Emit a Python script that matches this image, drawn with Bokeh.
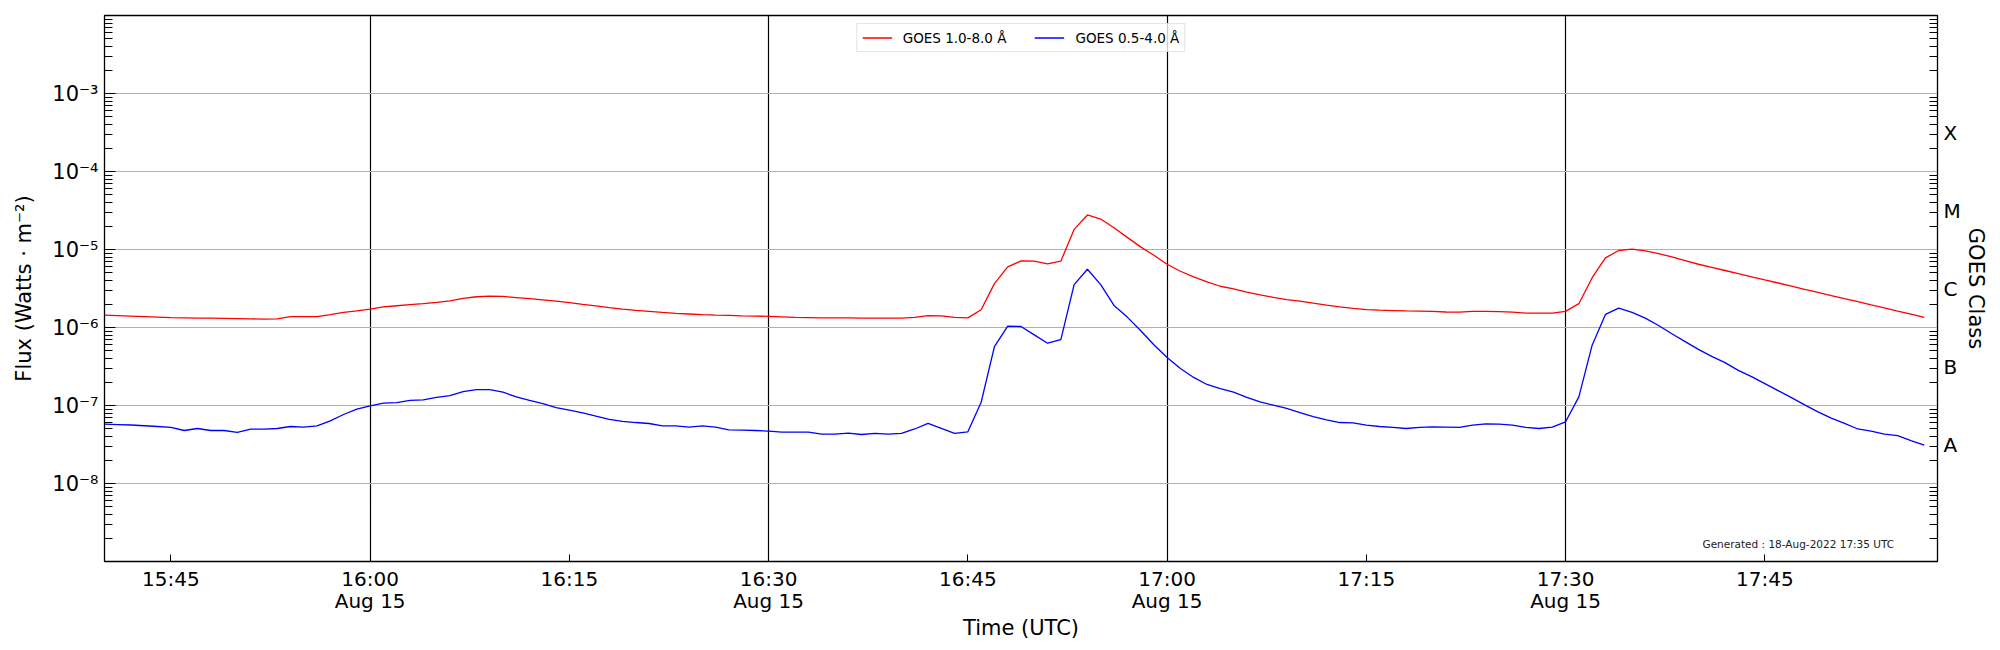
from datetime import datetime, timedelta
from bokeh.plotting import figure
from bokeh.models import Range1d, FixedTicker, LogAxis, Legend, LegendItem, Label
from bokeh.embed import file_html
from bokeh.resources import INLINE

# ---------------- data (1-minute GOES XRS fluxes, W m^-2) ----------------
start_time = datetime(2022, 8, 15, 15, 40)

flux_long = [  # GOES 1.0-8.0 A (red)
    1.44e-6, 1.42e-6, 1.40e-6, 1.38e-6, 1.36e-6, 1.34e-6, 1.33e-6, 1.32e-6, 1.32e-6, 1.31e-6,
    1.30e-6, 1.29e-6, 1.28e-6, 1.29e-6, 1.38e-6, 1.38e-6, 1.38e-6, 1.46e-6, 1.56e-6, 1.63e-6,
    1.72e-6, 1.84e-6, 1.90e-6, 1.96e-6, 2.02e-6, 2.10e-6, 2.20e-6, 2.36e-6, 2.48e-6, 2.53e-6,
    2.50e-6, 2.42e-6, 2.34e-6, 2.26e-6, 2.18e-6, 2.08e-6, 1.98e-6, 1.89e-6, 1.80e-6, 1.72e-6,
    1.66e-6, 1.61e-6, 1.56e-6, 1.52e-6, 1.49e-6, 1.46e-6, 1.44e-6, 1.43e-6, 1.41e-6, 1.40e-6,
    1.39e-6, 1.37e-6, 1.35e-6, 1.34e-6, 1.33e-6, 1.33e-6, 1.33e-6, 1.32e-6, 1.32e-6, 1.32e-6,
    1.32e-6, 1.35e-6, 1.42e-6, 1.41e-6, 1.35e-6, 1.33e-6, 1.69e-6, 3.65e-6, 5.98e-6, 7.14e-6,
    7.08e-6, 6.54e-6, 7.08e-6, 1.81e-5, 2.77e-5, 2.46e-5, 1.90e-5, 1.43e-5, 1.08e-5, 8.45e-6,
    6.47e-6, 5.26e-6, 4.45e-6, 3.84e-6, 3.38e-6, 3.12e-6, 2.85e-6, 2.62e-6, 2.43e-6, 2.28e-6,
    2.18e-6, 2.05e-6, 1.94e-6, 1.84e-6, 1.76e-6, 1.70e-6, 1.67e-6, 1.65e-6, 1.63e-6, 1.62e-6,
    1.61e-6, 1.58e-6, 1.57e-6, 1.61e-6, 1.61e-6, 1.60e-6, 1.57e-6, 1.53e-6, 1.53e-6, 1.53e-6,
    1.61e-6, 2.02e-6, 4.35e-6, 7.81e-6, 9.71e-6, 1.01e-5, 9.61e-6, 8.88e-6, 8.05e-6, 7.22e-6,
    6.47e-6, 5.90e-6, 5.38e-6, 4.90e-6, 4.47e-6, 4.07e-6, 3.72e-6, 3.39e-6, 3.09e-6, 2.82e-6,
    2.57e-6, 2.34e-6, 2.14e-6, 1.95e-6, 1.78e-6, 1.62e-6, 1.48e-6, 1.35e-6,
]

flux_short = [  # GOES 0.5-4.0 A (blue)
    5.77e-8, 5.70e-8, 5.62e-8, 5.50e-8, 5.38e-8, 5.23e-8, 4.78e-8, 5.07e-8, 4.78e-8, 4.78e-8,
    4.51e-8, 4.97e-8, 4.97e-8, 5.07e-8, 5.38e-8, 5.28e-8, 5.48e-8, 6.35e-8, 7.67e-8, 8.97e-8,
    9.90e-8, 1.07e-7, 1.09e-7, 1.16e-7, 1.18e-7, 1.27e-7, 1.34e-7, 1.51e-7, 1.60e-7, 1.60e-7,
    1.48e-7, 1.29e-7, 1.16e-7, 1.06e-7, 9.42e-8, 8.71e-8, 8.05e-8, 7.29e-8, 6.62e-8, 6.24e-8,
    6.05e-8, 5.88e-8, 5.48e-8, 5.48e-8, 5.28e-8, 5.48e-8, 5.28e-8, 4.88e-8, 4.83e-8, 4.78e-8,
    4.69e-8, 4.55e-8, 4.55e-8, 4.55e-8, 4.29e-8, 4.29e-8, 4.42e-8, 4.25e-8, 4.38e-8, 4.30e-8,
    4.40e-8, 5.00e-8, 5.90e-8, 5.10e-8, 4.40e-8, 4.60e-8, 1.10e-7, 5.70e-7, 1.04e-6, 1.03e-6,
    8.05e-7, 6.29e-7, 7.00e-7, 3.54e-6, 5.58e-6, 3.54e-6, 1.92e-6, 1.36e-6, 9.15e-7, 6.00e-7,
    4.12e-7, 2.98e-7, 2.29e-7, 1.86e-7, 1.64e-7, 1.48e-7, 1.27e-7, 1.11e-7, 1.01e-7, 9.16e-8,
    8.13e-8, 7.22e-8, 6.55e-8, 6.05e-8, 6.00e-8, 5.60e-8, 5.38e-8, 5.23e-8, 5.07e-8, 5.23e-8,
    5.32e-8, 5.28e-8, 5.23e-8, 5.60e-8, 5.82e-8, 5.77e-8, 5.60e-8, 5.23e-8, 5.07e-8, 5.28e-8,
    6.18e-8, 1.29e-7, 5.94e-7, 1.47e-6, 1.77e-6, 1.56e-6, 1.32e-6, 1.06e-6, 8.30e-7, 6.60e-7,
    5.25e-7, 4.27e-7, 3.55e-7, 2.82e-7, 2.34e-7, 1.91e-7, 1.55e-7, 1.26e-7, 1.02e-7, 8.30e-8,
    6.90e-8, 5.90e-8, 5.00e-8, 4.70e-8, 4.30e-8, 4.10e-8, 3.55e-8, 3.10e-8,
]

times = [start_time + timedelta(minutes=i) for i in range(len(flux_long))]

series_labels = ["GOES 1.0-8.0 Å", "GOES 0.5-4.0 Å"]
series_colors = ["#ff0000", "#0000ff"]

x_tick_times = ["15:45", "16:00", "16:15", "16:30", "16:45", "17:00", "17:15", "17:30", "17:45"]
x_major_times = ["16:00", "16:30", "17:00", "17:30"]
date_label = "Aug 15"

y_decades = [1e-9, 1e-8, 1e-7, 1e-6, 1e-5, 1e-4, 1e-3, 1e-2]
y_decade_labels = ["", "10⁻⁸", "10⁻⁷", "10⁻⁶", "10⁻⁵", "10⁻⁴", "10⁻³", ""]

goes_classes = ["A", "B", "C", "M", "X"]
goes_centers = [10 ** -7.5, 10 ** -6.5, 10 ** -5.5, 10 ** -4.5, 10 ** -3.5]

generated_text = "Generated : 18-Aug-2022 17:35 UTC"

# ---------------- helpers ----------------
EPOCH = datetime(1970, 1, 1)


def to_ms(dt):
    return (dt - EPOCH).total_seconds() * 1000.0


def hm(s):
    h, m = s.split(":")
    return datetime(2022, 8, 15, int(h), int(m))


FONT = "DejaVu Sans"

p = figure(
    frame_width=1833, frame_height=546,
    x_axis_type="datetime", y_axis_type="log",
    x_range=Range1d(hm("15:40"), hm("17:58")),
    y_range=Range1d(1e-9, 1e-2),
    output_backend="svg", toolbar_location=None,
    min_border_left=104, min_border_right=52, min_border_top=15, min_border_bottom=74,
    background_fill_color="white", border_fill_color="white",
)
p.outline_line_color = "black"
p.outline_line_width = 1.3
p.outline_line_alpha = 1.0

r_long = p.line(times, flux_long, line_color=series_colors[0], line_width=1.3)
r_short = p.line(times, flux_short, line_color=series_colors[1], line_width=1.3)

# ---- x axis ----
xt = [to_ms(hm(t)) for t in x_tick_times]
xmaj = [to_ms(hm(t)) for t in x_major_times]
xa = p.xaxis[0]
xa.ticker = FixedTicker(ticks=xt)
xa.major_label_overrides = {
    to_ms(hm(t)): (t + "\n" + date_label if t in x_major_times else t) for t in x_tick_times
}
xa.major_tick_in = 7
xa.major_tick_out = 0
xa.minor_tick_in = 0
xa.minor_tick_out = 0
xa.major_label_standoff = 5
xa.major_label_text_font = FONT
xa.major_label_text_font_size = "20px"
xa.major_label_text_color = "black"
xa.major_label_text_line_height = 0.92
xa.axis_label = "Time (UTC)"
xa.axis_label_text_font = FONT
xa.axis_label_text_font_size = "21px"
xa.axis_label_text_font_style = "normal"
xa.axis_label_text_color = "black"
xa.axis_label_standoff = 0
xa.axis_line_color = "black"
xa.major_tick_line_color = "black"

# ---- left y axis ----
minor_log = [k * 10.0 ** n for n in range(-9, -2) for k in range(2, 10)]
ya = p.yaxis[0]
ya.ticker = FixedTicker(ticks=y_decades, minor_ticks=minor_log)
ya.major_label_overrides = {v: s for v, s in zip(y_decades, y_decade_labels)}
ya.major_tick_in = 11
ya.major_tick_out = 0
ya.minor_tick_in = 8
ya.minor_tick_out = 0
ya.major_label_standoff = 6
ya.major_label_text_font = FONT
ya.major_label_text_font_size = "21px"
ya.major_label_text_color = "black"
ya.axis_label = "Flux (Watts · m⁻²)"
ya.axis_label_text_font = FONT
ya.axis_label_text_font_size = "21px"
ya.axis_label_text_font_style = "normal"
ya.axis_label_text_color = "black"
ya.axis_label_standoff = 13
ya.axis_line_color = "black"

# ---- right (GOES class) axis ----
ra = LogAxis(
    ticker=FixedTicker(ticks=goes_centers, minor_ticks=minor_log),
    major_label_overrides={v: s for v, s in zip(goes_centers, goes_classes)},
    major_tick_in=0, major_tick_out=0,
    minor_tick_in=8, minor_tick_out=0,
    major_label_standoff=6,
    major_label_text_font=FONT, major_label_text_font_size="20px",
    major_label_text_color="black",
    axis_label="GOES Class", axis_label_text_font=FONT,
    axis_label_text_font_size="21px", axis_label_text_font_style="normal",
    axis_label_text_color="black", axis_label_standoff=0,
    axis_line_color="black",
)
p.add_layout(ra, "right")

# ---- grids ----
p.xgrid.ticker = FixedTicker(ticks=xmaj)
p.xgrid.grid_line_color = "black"
p.xgrid.grid_line_width = 1.2
p.xgrid.grid_line_alpha = 1.0
p.ygrid.ticker = FixedTicker(ticks=y_decades)
p.ygrid.grid_line_color = "#b0b0b0"
p.ygrid.grid_line_width = 1.2
p.ygrid.grid_line_alpha = 1.0

# ---- legend ----
legend = Legend(
    items=[LegendItem(label=series_labels[0], renderers=[r_long]),
           LegendItem(label=series_labels[1], renderers=[r_short])],
    location="top_center", orientation="horizontal",
    label_text_font=FONT, label_text_font_size="13.5px", label_text_color="black",
    glyph_width=30, glyph_height=17, label_height=17, label_standoff=11,
    spacing=28, padding=5, margin=8,
    border_line_color="#cccccc", border_line_width=1,
    background_fill_color="white", background_fill_alpha=0.8,
)
p.add_layout(legend)

# ---- generated stamp ----
p.add_layout(Label(
    x=to_ms(datetime(2022, 8, 15, 17, 54, 44)), y=10 ** -8.78,
    text=generated_text, text_align="right", text_baseline="middle",
    text_font=FONT, text_font_size="10.5px", text_color="#222222",
))

open("out.html", "w").write(file_html(p, INLINE))
